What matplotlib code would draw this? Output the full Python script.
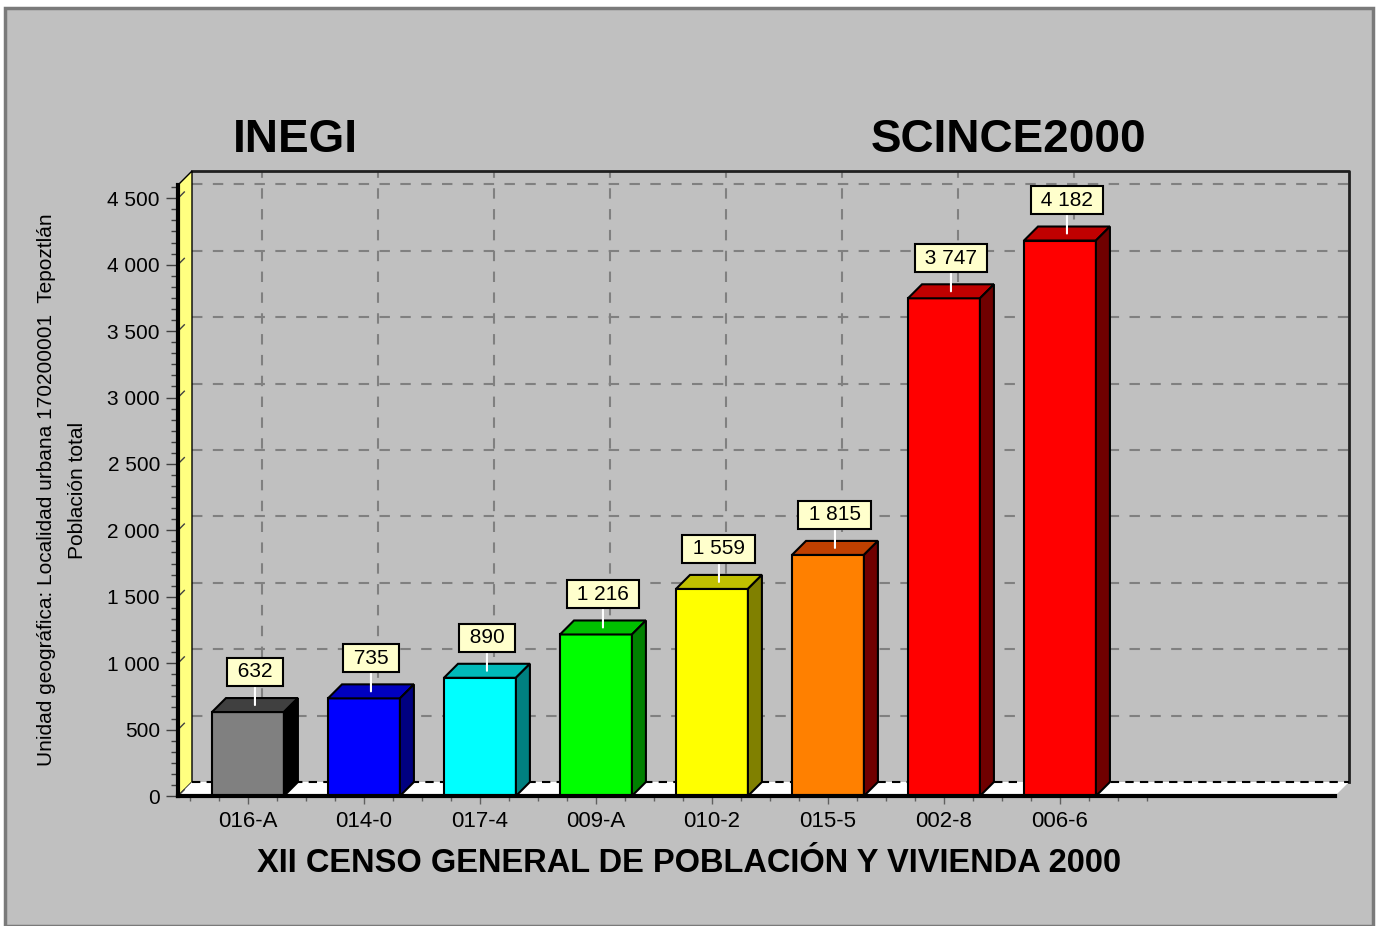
import matplotlib
matplotlib.use("Agg")
import matplotlib.pyplot as plt
from matplotlib.patches import Polygon, Rectangle
from matplotlib.ticker import FuncFormatter, MultipleLocator, FixedLocator
import numpy as np

plt.rcParams['font.family'] = ['Liberation Sans', 'DejaVu Sans']

# datos (AGEB, poblacion total)
categories = ['016-A', '014-0', '017-4', '009-A', '010-2', '015-5', '002-8', '006-6']
population = [632, 735, 890, 1216, 1559, 1815, 3747, 4182]
front_colors = ['#808080', '#0000FF', '#00FFFF', '#00FF00', '#FFFF00', '#FF8000', '#FF0000', '#FF0000']
top_colors = ['#404040', '#0000C0', '#00B8B8', '#00C000', '#C0C000', '#C04000', '#C00000', '#C00000']
side_colors = ['#000000', '#000080', '#008080', '#008000', '#808000', '#700000', '#700000', '#700000']
y_ticks = [0, 500, 1000, 1500, 2000, 2500, 3000, 3500, 4000, 4500]

y_label = 'Unidad geográfica: Localidad urbana 170200001  Tepoztlán\nPoblación total'
x_title = 'XII CENSO GENERAL DE POBLACIÓN Y VIVIENDA 2000'

W, H = 1376, 926
DEPTH = 14  # px, efecto 3D
XMIN, XMAX = -0.603, 9.371
YMAX = 4600
BAR_W = 0.62

fig = plt.figure(figsize=(W / 100, H / 100), dpi=100, facecolor='white')
fig.patches.append(Rectangle((5 / W, 0), (W - 8) / W, (H - 8) / H, transform=fig.transFigure,
                             fc='#C0C0C0', ec='#7A7A7A', lw=2.5, zorder=-10))

ax = fig.add_axes([178 / W, (H - 796) / H, (1335 - 178) / W, (796 - 185) / H])
ax.set_xlim(XMIN, XMAX)
ax.set_ylim(0, YMAX)
ax.patch.set_visible(False)

# profundidad en unidades de datos
pos = ax.get_position()
px_x = pos.width * W / (XMAX - XMIN)
px_y = pos.height * H / YMAX
ddx = DEPTH / px_x
ddy = DEPTH / px_y

# pared del fondo: rejilla
for v in y_ticks[1:]:
    ax.plot([XMIN + ddx, XMAX + ddx], [v + ddy, v + ddy], color='#808080', lw=1.5,
            ls=(0, (5, 5)), zorder=1, clip_on=False)
for i in range(len(categories)):
    ax.plot([i + ddx, i + ddx], [ddy, YMAX + ddy], color='#808080', lw=1.5,
            ls=(0, (5, 5)), zorder=1, clip_on=False)
ax.plot([XMIN + ddx, XMAX + ddx, XMAX + ddx], [YMAX + ddy, YMAX + ddy, ddy],
        color='#202020', lw=2, zorder=1, clip_on=False)

# pared izquierda (amarilla)
ax.add_patch(Polygon([(XMIN, 0), (XMIN, YMAX), (XMIN + ddx, YMAX + ddy), (XMIN + ddx, ddy)],
                     closed=True, fc='#FFFF80', ec='black', lw=1, zorder=2, clip_on=False))
for v in y_ticks:
    ax.plot([XMIN, XMIN + ddx * 0.45], [v, v + ddy * 0.45], color='#404040', lw=1,
            zorder=2.1, clip_on=False)

# piso (blanco)
ax.add_patch(Polygon([(XMIN, 0), (XMAX, 0), (XMAX + ddx, ddy), (XMIN + ddx, ddy)],
                     closed=True, fc='white', ec='none', zorder=2, clip_on=False))
ax.plot([XMIN + ddx, XMAX + ddx], [ddy, ddy], color='black', lw=1.5, ls=(0, (4, 3)),
        zorder=2.1, clip_on=False)

# barras 3D
x = np.arange(len(categories))
ax.bar(x, population, width=BAR_W, color=front_colors, edgecolor='black', linewidth=1.5, zorder=3)
for xi, v, tc, sc in zip(x, population, top_colors, side_colors):
    l, r = xi - BAR_W / 2, xi + BAR_W / 2
    ax.add_patch(Polygon([(l, v), (r, v), (r + ddx, v + ddy), (l + ddx, v + ddy)], closed=True,
                         fc=tc, ec='black', lw=1.5, zorder=3, clip_on=False))
    ax.add_patch(Polygon([(r, 0), (r + ddx, ddy), (r + ddx, v + ddy), (r, v)], closed=True,
                         fc=sc, ec='black', lw=1.5, zorder=3, clip_on=False))
    lbl = '{:,}'.format(v).replace(',', ' ')
    ax.annotate(' ' + lbl + ' ', xy=(xi + ddx / 2, v + ddy / 2), xytext=(0, 17),
                textcoords='offset points', ha='center', va='bottom', fontsize=15,
                bbox=dict(boxstyle='square,pad=0.22', fc='#FFFFCC', ec='black', lw=1.5),
                arrowprops=dict(arrowstyle='-', color='white', lw=1.5, shrinkA=0, shrinkB=0),
                zorder=5, annotation_clip=False)

# ejes
for s in ['top', 'right']:
    ax.spines[s].set_visible(False)
ax.spines['left'].set_linewidth(3)
ax.spines['bottom'].set_linewidth(3)
ax.spines['left'].set_zorder(4)
ax.spines['bottom'].set_zorder(4)

ax.set_yticks(y_ticks)
ax.yaxis.set_major_formatter(FuncFormatter(lambda v, p: '{:,}'.format(int(v)).replace(',', ' ')))
ax.yaxis.set_minor_locator(MultipleLocator(500 / 6))
ax.tick_params(axis='y', which='major', length=9, width=1, color='#404040', labelsize=15, pad=4)
ax.tick_params(axis='y', which='minor', length=5, width=1, color='#404040')

ax.set_xticks(x)
ax.set_xticklabels(categories)
minor_x = [m for m in np.arange(-0.5, 7.8, 0.25) if abs(m - round(m)) > 1e-6]
ax.xaxis.set_minor_locator(FixedLocator(minor_x))
ax.tick_params(axis='x', which='major', length=6, width=1, color='#606060', labelsize=16, pad=5)
ax.tick_params(axis='x', which='minor', length=3.5, width=1, color='#606060')

# textos
fig.text(233 / W, (H - 152) / H, 'INEGI', fontsize=33, fontweight='bold', ha='left', va='baseline')
fig.text(871 / W, (H - 152) / H, 'SCINCE2000', fontsize=33, fontweight='bold', ha='left', va='baseline')
fig.text(689 / W, (H - 863) / H, x_title, fontsize=23.5, fontweight='bold', ha='center', va='center')
fig.text(62 / W, (H - 490) / H, y_label, fontsize=15, rotation=90, ha='center', va='center',
         multialignment='center', linespacing=1.75)

fig.savefig('out.png', dpi=100, facecolor=fig.get_facecolor())
